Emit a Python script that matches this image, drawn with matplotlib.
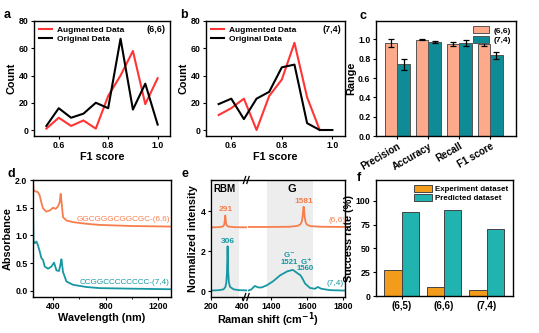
import numpy as np
import matplotlib
matplotlib.use('Agg')
from matplotlib import pyplot as plt

plt.rcParams['font.family'] = ['Liberation Sans', 'DejaVu Sans']
plt.rcParams['font.weight'] = 'bold'
plt.rcParams['axes.labelweight'] = 'bold'
plt.rcParams['axes.linewidth'] = 1.0
plt.rcParams['xtick.labelsize'] = 6.3
plt.rcParams['ytick.labelsize'] = 6.3
plt.rcParams['xtick.major.size'] = 2.5
plt.rcParams['ytick.major.size'] = 2.5
plt.rcParams['xtick.major.pad'] = 1.2
plt.rcParams['ytick.major.pad'] = 1.5
plt.rcParams['axes.labelsize'] = 7.8
plt.rcParams['axes.labelpad'] = 1.5

# ---- data ----
f1_bins = [0.55, 0.6, 0.65, 0.7, 0.75, 0.8, 0.85, 0.9, 0.95, 1.0]
a_aug = [1, 9, 3, 7, 1, 25, 40, 58, 19, 38]
a_orig = [3, 16, 9, 12, 20, 16, 67, 15, 34, 4]
b_aug = [11, 16, 23, 0, 25, 37, 64, 24, 0, None]
b_orig = [19, 23, 8, 23, 28, 46, 48, 5, 0, 0]

metrics = ['Precision', 'Accuracy', 'Recall', 'F1 score']
c_66 = [0.96, 0.995, 0.955, 0.955]
c_66_err = [0.04, 0.005, 0.02, 0.02]
c_74 = [0.74, 0.975, 0.96, 0.835]
c_74_err = [0.055, 0.01, 0.03, 0.035]

d_wl_66 = [248, 252, 261, 286, 299, 312, 324, 349, 375, 400, 420, 437, 451, 458, 464, 476, 502, 552, 654, 755, 1000, 1300]
d_abs_66 = [2.0, 1.82, 1.8, 1.78, 1.72, 1.59, 1.49, 1.43, 1.45, 1.5, 1.48, 1.52, 1.6, 1.75, 1.62, 1.33, 1.27, 1.24, 1.21, 1.19, 1.17, 1.16]
d_wl_74 = [248, 252, 261, 274, 286, 299, 312, 324, 337, 362, 388, 408, 426, 446, 458, 464, 476, 502, 552, 654, 755, 1000, 1300]
d_abs_74 = [1.5, 0.9, 0.86, 0.89, 0.82, 0.71, 0.59, 0.56, 0.44, 0.4, 0.44, 0.51, 0.37, 0.36, 0.5, 0.57, 0.34, 0.17, 0.11, 0.07, 0.05, 0.04, 0.03]

e_rbm_x_66 = [200, 250, 275, 283, 287, 289, 291, 293, 295, 299, 310, 350, 428]
e_rbm_y_66 = [3.19, 3.2, 3.23, 3.3, 3.45, 3.65, 3.78, 3.65, 3.45, 3.3, 3.23, 3.2, 3.19]
e_rbm_x_74 = [200, 250, 280, 292, 298, 302, 304, 306, 308, 310, 314, 322, 345, 380, 428]
e_rbm_y_74 = [0.04, 0.06, 0.1, 0.22, 0.45, 0.95, 1.6, 2.25, 1.6, 0.95, 0.45, 0.22, 0.1, 0.06, 0.05]
e_g_x_66 = [1275, 1400, 1500, 1545, 1562, 1570, 1575, 1578, 1581, 1584, 1587, 1592, 1600, 1620, 1680, 1812]
e_g_y_66 = [3.21, 3.21, 3.22, 3.26, 3.33, 3.45, 3.7, 4.0, 4.22, 4.0, 3.7, 3.45, 3.32, 3.25, 3.22, 3.21]
e_g_x_74 = [1275, 1290, 1300, 1310, 1325, 1345, 1375, 1410, 1450, 1490, 1521, 1540, 1555, 1562, 1572, 1590, 1617, 1645, 1660, 1680, 1730, 1812]
e_g_y_74 = [0.05, 0.1, 0.2, 0.27, 0.2, 0.19, 0.3, 0.5, 0.8, 1.0, 1.07, 0.95, 0.85, 0.82, 0.68, 0.38, 0.17, 0.13, 0.22, 0.13, 0.06, 0.04]

chirality = ['(6,5)', '(6,6)', '(7,4)']
f_exp = [27, 9, 6.5]
f_pred = [88, 90, 70]

RED = '#FF3535'
SALMON = '#FDAA8C'
TEAL_C = '#0F8B95'
ORANGE = '#F77E4C'
TEAL = '#1697A2'
F_ORANGE = '#F39C1C'
F_TEAL = '#21B3AF'

W, H = 539, 333
fig = plt.figure(figsize=(W / 100, H / 100), dpi=100)


def box(l, t, r, b):
    return [l / W, (H - b) / H, (r - l) / W, (b - t) / H]


def letter(x, y, s):
    fig.text(x / W, 1 - y / H, s, fontsize=9, fontweight='bold', ha='left', va='center')


def hist_panel(rect, aug, orig, tag):
    ax = fig.add_axes(rect)
    xa = [x for x, v in zip(f1_bins, aug) if v is not None]
    ya = [v for v in aug if v is not None]
    ax.plot(xa, ya, color=RED, lw=1.5, label='Augmented Data')
    ax.plot(f1_bins, orig, color='black', lw=1.5, label='Original Data')
    ax.set_xlim(0.5, 1.05)
    ax.set_ylim(-4.4, 80)
    ax.set_xticks([0.6, 0.8, 1.0])
    ax.set_yticks([0, 20, 40, 60, 80])
    ax.set_xlabel('F1 score')
    ax.set_ylabel('Count')
    ax.legend(loc='upper left', frameon=False, fontsize=6, handlelength=1.6,
              borderaxespad=0.2, labelspacing=0.2, handletextpad=0.6)
    ax.text(0.97, 0.93, tag, transform=ax.transAxes, ha='right', va='center', fontsize=6.5)
    return ax


# a, b
hist_panel(box(34, 21, 170, 136), a_aug, a_orig, '(6,6)')
hist_panel(box(206, 21, 345, 136), b_aug, b_orig, '(7,4)')

# c
ax = fig.add_axes(box(376, 21, 516, 136))
xc = np.arange(len(metrics))
bw = 0.4
ax.bar(xc - bw / 2, c_66, bw, yerr=c_66_err, color=SALMON, edgecolor='#555555', lw=0.7,
       capsize=2, error_kw={'elinewidth': 0.9, 'capthick': 0.9}, label='(6,6)')
ax.bar(xc + bw / 2, c_74, bw, yerr=c_74_err, color=TEAL_C, edgecolor='#555555', lw=0.7,
       capsize=2, error_kw={'elinewidth': 0.9, 'capthick': 0.9}, label='(7,4)')
ax.set_xlim(-0.69, 3.83)
ax.set_ylim(0, 1.19)
ax.set_yticks([0, 0.2, 0.4, 0.6, 0.8, 1.0])
ax.set_yticklabels(['0.0', '0.2', '0.4', '0.6', '0.8', '1.0'])
ax.set_xticks(xc)
ax.set_xticklabels(metrics, rotation=30, ha='right', rotation_mode='anchor', fontsize=7)
ax.set_ylabel('Range')
ax.legend(loc='upper right', frameon=False, fontsize=6, handlelength=2.0, handleheight=1.0,
          borderaxespad=0.2, labelspacing=0.15, handletextpad=0.5)

# d
ax = fig.add_axes(box(33, 180, 171, 297))
ax.plot(d_wl_66, d_abs_66, color=ORANGE, lw=1.3)
ax.plot(d_wl_74, d_abs_74, color=TEAL, lw=1.3)
ax.set_xlim(248, 1296)
ax.set_ylim(-0.11, 2.0)
ax.set_xticks([400, 800, 1200])
ax.set_xticks([600, 1000], minor=True)
ax.tick_params(which='minor', length=1.5)
ax.set_yticks([0, 0.5, 1.0, 1.5, 2.0])
ax.set_yticklabels(['0.0', '0.5', '1.0', '1.5', '2.0'])
ax.set_xlabel('Wavelength (nm)')
ax.set_ylabel('Absorbance')
ax.text(1288, 1.29, 'GGCGGGCGGCGC-(6,6)', color=ORANGE, ha='right', va='center', fontsize=5.9, fontweight='normal')
ax.text(1288, 0.15, 'CCGGCCCCCCCC-(7,4)', color=TEAL, ha='right', va='center', fontsize=5.9, fontweight='normal')

# e (broken axis)
ylim_e = (-0.28, 5.55)
ax1 = fig.add_axes(box(211, 180, 247, 297))
ax2 = fig.add_axes(box(247, 180, 345, 297))
ax1.axvspan(210, 378, color='#EDEDED', lw=0)
ax2.axvspan(1377, 1633, color='#EDEDED', lw=0)
ax1.plot(e_rbm_x_66, e_rbm_y_66, color=ORANGE, lw=1.3)
ax1.plot(e_rbm_x_74, e_rbm_y_74, color=TEAL, lw=1.3)
ax2.plot(e_g_x_66, e_g_y_66, color=ORANGE, lw=1.3)
ax2.plot(e_g_x_74, e_g_y_74, color=TEAL, lw=1.3)
ax1.set_xlim(200, 430)
ax2.set_xlim(1265, 1812)
for a in (ax1, ax2):
    a.set_ylim(*ylim_e)
ax1.set_xticks([200, 400])
ax2.set_xticks([1400, 1600, 1800])
ax1.set_yticks([0, 2, 4])
ax2.set_yticks([])
ax1.spines['right'].set_visible(False)
ax2.spines['left'].set_visible(False)
ax1.set_ylabel('Normalized intensity')
fig.text(268 / W, 1 - 320 / H, 'Raman shift (cm$^{\\mathbf{-1}}$)', ha='center', va='center', fontsize=7.8, fontweight='bold')
for yy in (0, 1):
    for dx in (-0.025, 0.01):
        ax2.plot([dx - 0.012, dx + 0.012], [yy - 0.03, yy + 0.03], transform=ax2.transAxes,
                 color='black', lw=0.9, clip_on=False)
ax1.text(289, 5.1, 'RBM', ha='center', va='center', fontsize=7)
ax2.text(1518, 5.1, 'G', ha='center', va='center', fontsize=8)
ax1.text(291, 4.07, '291', color=ORANGE, ha='center', va='center', fontsize=6)
ax1.text(306, 2.5, '306', color=TEAL, ha='center', va='center', fontsize=6)
ax2.text(1581, 4.5, '1581', color=ORANGE, ha='center', va='center', fontsize=6)
ax2.text(1498, 1.78, 'G$^{-}$', color=TEAL, ha='center', va='center', fontsize=5.6)
ax2.text(1498, 1.42, '1521', color=TEAL, ha='center', va='center', fontsize=5.6)
ax2.text(1596, 1.52, 'G$^{+}$', color=TEAL, ha='center', va='center', fontsize=5.6)
ax2.text(1592, 1.12, '1560', color=TEAL, ha='center', va='center', fontsize=5.6)
ax2.text(1765, 3.55, '(6,6)', color=ORANGE, ha='center', va='center', fontsize=6, fontweight='normal')
ax2.text(1755, 0.38, '(7,4)', color=TEAL, ha='center', va='center', fontsize=6, fontweight='normal')

# f
ax = fig.add_axes(box(376, 180, 513, 296))
xf = np.arange(len(chirality))
bw = 0.405
ax.bar(xf - bw / 2, f_exp, bw, color=F_ORANGE, edgecolor='#444444', lw=0.7, label='Experiment dataset')
ax.bar(xf + bw / 2, f_pred, bw, color=F_TEAL, edgecolor='#444444', lw=0.7, label='Predicted dataset')
ax.set_xlim(-0.6, 2.62)
ax.set_ylim(0, 122)
ax.set_yticks([0, 25, 50, 75, 100])
ax.set_xticks(xf)
ax.set_xticklabels(chirality, fontsize=7)
ax.set_ylabel('Success rate (%)')
ax.legend(loc='upper right', frameon=False, fontsize=5.7, handlelength=2.2, handleheight=1.0,
          borderaxespad=0.2, labelspacing=0.1, handletextpad=0.4)

letter(4, 15, 'a')
letter(180, 15, 'b')
letter(359, 16, 'c')
letter(8, 174, 'd')
letter(182, 174, 'e')
letter(357, 178, 'f')

fig.savefig('out.png', dpi=100)
